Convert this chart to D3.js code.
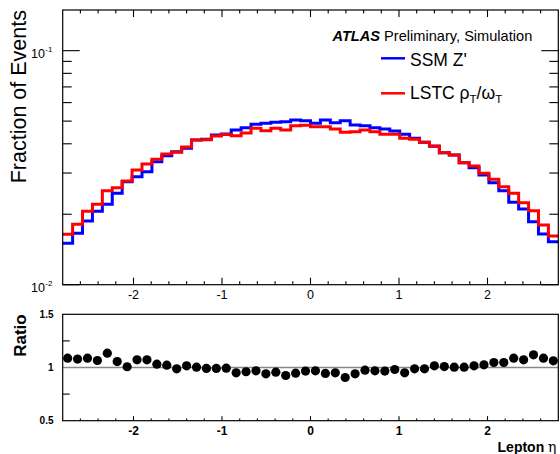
<!DOCTYPE html>
<html>
<head>
<meta charset="utf-8">
<script src="https://cdn.jsdelivr.net/npm/d3@7"></script>
<style>
  body { margin: 0; background: #fff; }
  svg { display: block; }
  text { font-family: "Liberation Sans", Arial, Helvetica, sans-serif; fill: #000; }
</style>
</head>
<body>
<svg id="chart" width="560" height="454"></svg>
<script>
// Lepton pseudorapidity binning: 50 equal bins over |eta| < 2.8
const etaRange = [-2.8, 2.8];
const nBins = 50;

// Normalised lepton eta distributions, one value per bin
const ssmZprime = [
  0.01503, 0.01659, 0.01872, 0.02060, 0.02207, 0.02458, 0.02756, 0.02895, 0.03041, 0.03355,
  0.03559, 0.03703, 0.03828, 0.04153, 0.04182, 0.04362, 0.04406, 0.04583, 0.04688, 0.04848,
  0.04895, 0.04943, 0.04973, 0.05057, 0.05015, 0.04895, 0.05057, 0.04922, 0.05022, 0.04814,
  0.04781, 0.04688, 0.04628, 0.04538, 0.04392, 0.04223, 0.04060, 0.03900, 0.03665, 0.03583,
  0.03322, 0.03162, 0.02944, 0.02729, 0.02522, 0.02250, 0.02107, 0.01859, 0.01647, 0.01527
];
const lstcRhoOmega = [
  0.01642, 0.01812, 0.02060, 0.02207, 0.02522, 0.02598, 0.02775, 0.03092, 0.03281, 0.03435,
  0.03619, 0.03681, 0.03880, 0.04153, 0.04160, 0.04320, 0.04380, 0.04333, 0.04450, 0.04660,
  0.04551, 0.04660, 0.04583, 0.04781, 0.04800, 0.04734, 0.04734, 0.04628, 0.04480, 0.04507,
  0.04583, 0.04507, 0.04392, 0.04392, 0.04223, 0.04182, 0.04060, 0.03916, 0.03665, 0.03583,
  0.03322, 0.03216, 0.02993, 0.02821, 0.02624, 0.02458, 0.02241, 0.02072, 0.01799, 0.01614
];
// LSTC / SSM ratio per bin
const ratioValues = [
  1.088, 1.079, 1.088, 1.066, 1.135, 1.056, 1.007, 1.072, 1.072, 1.031,
  1.022, 0.988, 1.016, 1.003, 0.991, 0.991, 0.994, 0.950, 0.960, 0.969,
  0.941, 0.956, 0.925, 0.947, 0.966, 0.969, 0.944, 0.950, 0.906, 0.941,
  0.975, 0.969, 0.966, 0.981, 0.950, 0.988, 0.988, 1.016, 1.009, 1.003,
  1.003, 1.016, 1.025, 1.047, 1.047, 1.088, 1.072, 1.119, 1.088, 1.063
];

const etaMajorTicks = [-2, -1, 0, 1, 2];
const etaMinorStep = 0.2;
const fracDecadeTicks = [{ v: 0.01, exp: "-2" }, { v: 0.1, exp: "-1" }];
const fracMinorTicks = [0.02, 0.03, 0.04, 0.05, 0.06, 0.07, 0.08, 0.09];
const ratioLabelTicks = [0.5, 1, 1.5];
const ratioMinorTicks = [0.75, 1.25];

const svg = d3.select("#chart");

// Panel geometry
const L = 62.7, R = 558.3;
const top1 = 10, bot1 = 284.7;
const top2 = 314.3, bot2 = 420.7;

const x = d3.scaleLinear().domain(etaRange).range([L, R]);
const y = d3.scaleLog().domain([0.01, 0.1492]).range([bot1, top1]);
const yr = d3.scaleLinear().domain([0.5, 1.5]).range([bot2, top2]);

const binW = (etaRange[1] - etaRange[0]) / nBins;
const edges = d3.range(nBins + 1).map(i => etaRange[0] + i * binW);
const centers = d3.range(nBins).map(i => etaRange[0] + (i + 0.5) * binW);

const etaMinor = d3.range(etaRange[0], etaRange[1] + 1e-9, etaMinorStep)
  .map(v => Math.round(v * 10) / 10)
  .filter(v => !etaMajorTicks.includes(v) && v > etaRange[0] && v < etaRange[1]);

// ---------- top panel ----------
const g1 = svg.append("g");

function stepPath(values) {
  const pts = values.map((v, i) => [edges[i], v]);
  pts.push([edges[nBins], values[nBins - 1]]);
  return d3.line().x(d => x(d[0])).y(d => y(d[1])).curve(d3.curveStepAfter)(pts);
}

g1.append("path").attr("d", stepPath(ssmZprime))
  .attr("fill", "none").attr("stroke", "#0000ff").attr("stroke-width", 3);
g1.append("path").attr("d", stepPath(lstcRhoOmega))
  .attr("fill", "none").attr("stroke", "#ff0000").attr("stroke-width", 3);

// frame
g1.append("rect").attr("x", L).attr("y", top1).attr("width", R - L).attr("height", bot1 - top1)
  .attr("fill", "none").attr("stroke", "#000").attr("stroke-width", 1.2);

const tickG = g1.append("g").attr("stroke", "#000").attr("stroke-width", 1.1);
// x ticks, bottom and top, pointing inward
etaMajorTicks.forEach(t => {
  tickG.append("line").attr("x1", x(t)).attr("x2", x(t)).attr("y1", bot1).attr("y2", bot1 - 7);
  tickG.append("line").attr("x1", x(t)).attr("x2", x(t)).attr("y1", top1).attr("y2", top1 + 7);
});
etaMinor.forEach(t => {
  tickG.append("line").attr("x1", x(t)).attr("x2", x(t)).attr("y1", bot1).attr("y2", bot1 - 3.5);
  tickG.append("line").attr("x1", x(t)).attr("x2", x(t)).attr("y1", top1).attr("y2", top1 + 3.5);
});
// y ticks, left and right
fracDecadeTicks.forEach(t => {
  tickG.append("line").attr("x1", L).attr("x2", L + 17).attr("y1", y(t.v)).attr("y2", y(t.v));
  tickG.append("line").attr("x1", R).attr("x2", R - 17).attr("y1", y(t.v)).attr("y2", y(t.v));
});
fracMinorTicks.forEach(v => {
  tickG.append("line").attr("x1", L).attr("x2", L + 9).attr("y1", y(v)).attr("y2", y(v));
  tickG.append("line").attr("x1", R).attr("x2", R - 9).attr("y1", y(v)).attr("y2", y(v));
});

// x tick labels (top panel)
g1.selectAll("text.xl").data(etaMajorTicks).join("text")
  .attr("class", "xl")
  .attr("x", d => x(d)).attr("y", bot1 + 14.5)
  .attr("text-anchor", "middle").attr("font-size", 12.5)
  .text(d => d);

// y tick labels 10^n
fracDecadeTicks.forEach(t => {
  g1.append("text").attr("x", 45).attr("y", y(t.v) + 7)
    .attr("text-anchor", "end").attr("font-size", 12.5).text("10");
  g1.append("text").attr("x", 45.3).attr("y", y(t.v) + 1.5)
    .attr("text-anchor", "start").attr("font-size", 8).text(t.exp);
});

// y title
g1.append("text")
  .attr("transform", `translate(25.5, ${top1}) rotate(-90)`)
  .attr("text-anchor", "end").attr("font-size", 21.5)
  .text("Fraction of Events");

// ATLAS label
const atlas = g1.append("text").attr("x", 332.5).attr("y", 41).attr("font-size", 14.6);
atlas.append("tspan").attr("font-weight", "bold").attr("font-style", "italic").text("ATLAS");
atlas.append("tspan").text(" Preliminary, Simulation");

// legend
const legend = [
  { color: "#0000ff", y: 58.3 },
  { color: "#ff0000", y: 93.3 }
];
legend.forEach(l => {
  g1.append("line").attr("x1", 381).attr("x2", 405).attr("y1", l.y).attr("y2", l.y)
    .attr("stroke", l.color).attr("stroke-width", 2.5);
});
g1.append("text").attr("x", 410).attr("y", 65.7).attr("font-size", 17.5).text("SSM Z'");
const lt = g1.append("text").attr("x", 410).attr("y", 98.5).attr("font-size", 17.5);
lt.append("tspan").text("LSTC \u03C1");
lt.append("tspan").attr("font-size", 11.5).attr("dy", 4).text("T");
lt.append("tspan").attr("dy", -4).text("/\u03C9");
lt.append("tspan").attr("font-size", 11.5).attr("dy", 4).text("T");

// ---------- ratio panel ----------
const g2 = svg.append("g");

g2.append("line").attr("x1", L).attr("x2", R).attr("y1", yr(1)).attr("y2", yr(1))
  .attr("stroke", "#888").attr("stroke-width", 1.5);

g2.append("rect").attr("x", L).attr("y", top2).attr("width", R - L).attr("height", bot2 - top2)
  .attr("fill", "none").attr("stroke", "#000").attr("stroke-width", 1.2);

const t2 = g2.append("g").attr("stroke", "#000").attr("stroke-width", 1.1);
etaMajorTicks.forEach(t => {
  t2.append("line").attr("x1", x(t)).attr("x2", x(t)).attr("y1", bot2).attr("y2", bot2 - 4.5);
});
etaMinor.forEach(t => {
  t2.append("line").attr("x1", x(t)).attr("x2", x(t)).attr("y1", bot2).attr("y2", bot2 - 2.2);
});
ratioMinorTicks.forEach(v => {
  t2.append("line").attr("x1", L).attr("x2", L + 7).attr("y1", yr(v)).attr("y2", yr(v));
});

g2.selectAll("circle").data(ratioValues).join("circle")
  .attr("cx", (d, i) => x(centers[i])).attr("cy", d => yr(d))
  .attr("r", 4.6).attr("fill", "#000");

g2.selectAll("text.xr").data(etaMajorTicks).join("text")
  .attr("class", "xr")
  .attr("x", d => x(d)).attr("y", bot2 + 14)
  .attr("text-anchor", "middle").attr("font-size", 12).attr("font-weight", "bold")
  .text(d => d);

g2.selectAll("text.yr").data(ratioLabelTicks).join("text")
  .attr("class", "yr")
  .attr("x", 53.5).attr("y", d => yr(d) + 3.5)
  .attr("text-anchor", "end").attr("font-size", 10).attr("font-weight", "bold")
  .text(d => d);

g2.append("text")
  .attr("transform", `translate(25.5, ${top2}) rotate(-90)`)
  .attr("text-anchor", "end").attr("font-size", 17).attr("font-weight", "bold")
  .text("Ratio");

const xt = g2.append("text").attr("x", 556.5).attr("y", 451.5)
  .attr("text-anchor", "end").attr("font-size", 14).attr("font-weight", "bold");
xt.append("tspan").text("Lepton ");
xt.append("tspan").attr("font-family", "DejaVu Serif, serif").attr("font-weight", "normal").text("\u03B7");
</script>
</body>
</html>
